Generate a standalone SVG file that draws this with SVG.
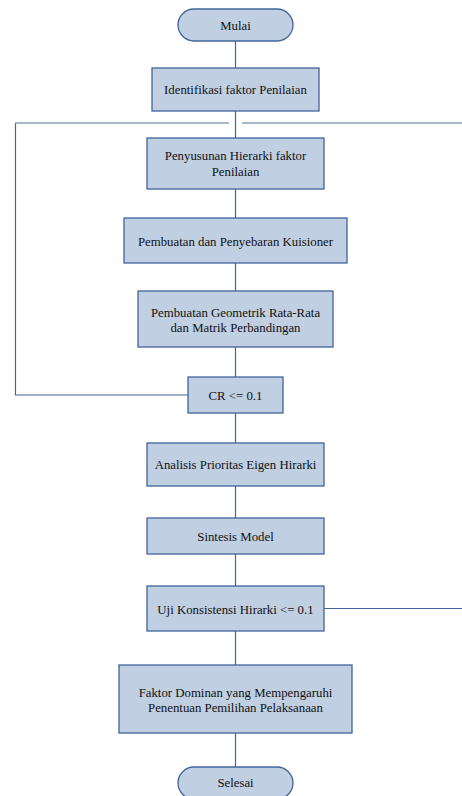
<svg xmlns="http://www.w3.org/2000/svg" width="462" height="796" viewBox="0 0 462 796">
<style>
.box{fill:#c0cfe2;stroke:#41659a;stroke-width:1.3}
.t{font-family:'Liberation Serif','Times New Roman',serif;font-size:12.8px;fill:#111;text-anchor:middle}
.c{fill:none;stroke:#41659a;stroke-width:1.2}
.l{fill:none;stroke:#8aa1bd;stroke-width:1.6}
</style>
<rect width="462" height="796" fill="#fff"/>
<g id="connectors">
<line class="c" x1="235.5" y1="41" x2="235.5" y2="68"/>
<line class="c" x1="235.5" y1="111" x2="235.5" y2="138"/>
<line class="c" x1="235.5" y1="189" x2="235.5" y2="218"/>
<line class="c" x1="235.5" y1="263" x2="235.5" y2="291"/>
<line class="c" x1="235.5" y1="347" x2="235.5" y2="377"/>
<line class="c" x1="235.5" y1="413" x2="235.5" y2="443"/>
<line class="c" x1="235.5" y1="486" x2="235.5" y2="518"/>
<line class="c" x1="235.5" y1="554" x2="235.5" y2="586"/>
<line class="c" x1="235.5" y1="631" x2="235.5" y2="665"/>
<line class="c" x1="235.5" y1="733" x2="235.5" y2="767"/>
<polyline class="c" points="188,395 15.5,395 15.5,123"/>
<line class="l" x1="15" y1="123" x2="229" y2="123"/>
<line class="l" x1="242" y1="123" x2="462" y2="123"/>
<line class="c" x1="324" y1="608.5" x2="462" y2="608.5"/>
</g>
<g id="mulai"><rect class="box" x="178" y="9" width="115" height="32" rx="16"/><text class="t" x="235.5" y="29.5">Mulai</text></g>
<g id="identifikasi"><rect class="box" x="152" y="68" width="167" height="43"/><text class="t" x="235.5" y="94">Identifikasi faktor Penilaian</text></g>
<g id="penyusunan"><rect class="box" x="147" y="138" width="177" height="51"/><text class="t" x="235.5" y="160">Penyusunan Hierarki faktor</text><text class="t" x="235.5" y="176">Penilaian</text></g>
<g id="kuisioner"><rect class="box" x="124" y="218" width="223" height="45"/><text class="t" x="235.5" y="246">Pembuatan dan Penyebaran Kuisioner</text></g>
<g id="geometrik"><rect class="box" x="138" y="291" width="195" height="56"/><text class="t" x="235.5" y="316.5">Pembuatan Geometrik Rata-Rata</text><text class="t" x="235.5" y="331.5">dan Matrik Perbandingan</text></g>
<g id="cr"><rect class="box" x="188" y="377" width="95" height="36"/><text class="t" x="235.5" y="399.5">CR &lt;= 0.1</text></g>
<g id="analisis"><rect class="box" x="147" y="443" width="177" height="43"/><text class="t" x="235.5" y="468.5">Analisis Prioritas Eigen Hirarki</text></g>
<g id="sintesis"><rect class="box" x="147" y="518" width="177" height="36"/><text class="t" x="235.5" y="540.5">Sintesis Model</text></g>
<g id="uji"><rect class="box" x="147" y="586" width="177" height="45"/><text class="t" x="235.5" y="613.5">Uji Konsistensi Hirarki &lt;= 0.1</text></g>
<g id="faktor"><rect class="box" x="119" y="665" width="233" height="68"/><text class="t" x="235.5" y="696.5">Faktor Dominan yang Mempengaruhi</text><text class="t" x="235.5" y="711.5">Penentuan Pemilihan Pelaksanaan</text></g>
<g id="selesai"><rect class="box" x="178" y="767" width="115" height="32" rx="16"/><text class="t" x="235.5" y="787">Selesai</text></g>
</svg>
